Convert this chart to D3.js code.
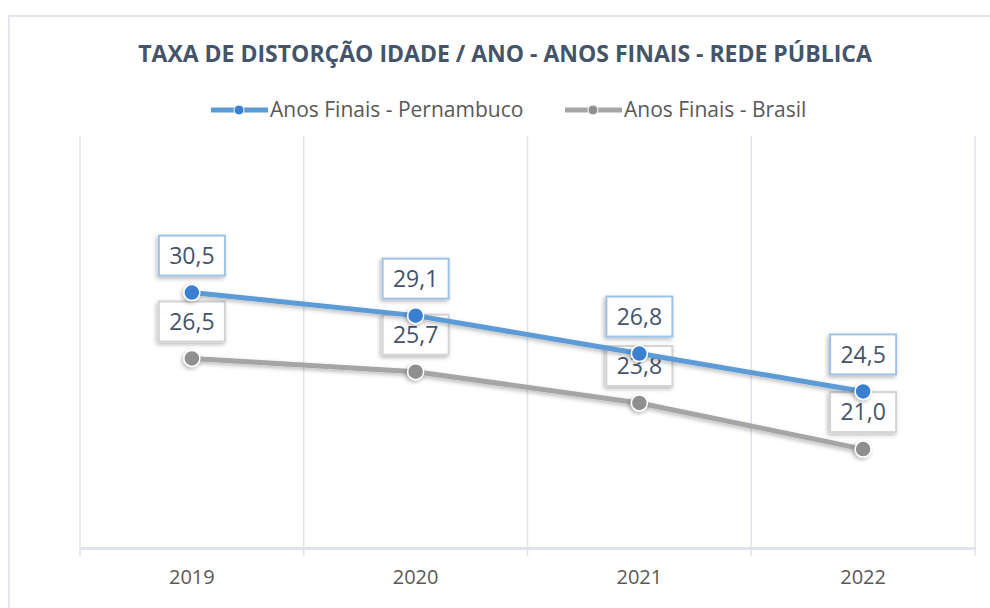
<!DOCTYPE html>
<html lang="pt">
<head>
<meta charset="utf-8">
<title>Taxa de distorção idade / ano</title>
<script src="https://d3js.org/d3.v7.min.js"></script>
<style>
  body { margin: 0; background: #fff; }
  text { font-family: "Open Sans", sans-serif; }
</style>
</head>
<body>
<script>
// dados do gráfico
const years = ["2019", "2020", "2021", "2022"];
const pernambuco = [30.5, 29.1, 26.8, 24.5];
const brasil = [26.5, 25.7, 23.8, 21.0];
const seriesNames = ["Anos Finais - Pernambuco", "Anos Finais - Brasil"];

const width = 990, height = 608;
const svg = d3.select("body").append("svg")
  .attr("width", width).attr("height", height);

// sombras estilo excel
const defs = svg.append("defs");
const sh = defs.append("filter").attr("id", "shadow")
  .attr("x", "-30%").attr("y", "-30%").attr("width", "160%").attr("height", "160%");
sh.append("feDropShadow").attr("dx", -1.5).attr("dy", 2).attr("stdDeviation", 2)
  .attr("flood-color", "#000").attr("flood-opacity", 0.28);

// moldura
svg.append("path")
  .attr("d", "M9,608 V16 H990")
  .attr("fill", "none").attr("stroke", "#e2e6eb").attr("stroke-width", 2);

svg.append("text")
  .attr("x", 505).attr("y", 62)
  .attr("text-anchor", "middle")
  .attr("font-size", 23).attr("font-weight", "bold")
  .attr("fill", "#44546a")
  .text("TAXA DE DISTORÇÃO IDADE / ANO - ANOS FINAIS - REDE PÚBLICA");

const x = d3.scaleBand().domain(years).range([80, 975]);
const y = d3.scaleLinear().domain([15, 40]).range([548, 136]);

// grades verticais
const bounds = years.map(d => x(d)).concat([x.range()[1]]);
svg.append("g").selectAll("line").data(bounds).join("line")
  .attr("x1", d => d).attr("x2", d => d)
  .attr("y1", y(40)).attr("y2", 556)
  .attr("stroke", "#dfe4eb").attr("stroke-width", 1.5);

// eixo x
const xAxis = svg.append("g").attr("transform", "translate(0,548)")
  .call(d3.axisBottom(x).tickSize(0).tickPadding(22));
xAxis.select(".domain").attr("stroke", "#dfe4eb").attr("stroke-width", 3);
xAxis.selectAll("text").attr("font-size", 20).attr("fill", "#595959")
  .attr("font-family", "'Open Sans', sans-serif");

const series = [
  { name: seriesNames[1], values: brasil, line: "#a5a5a5", dot: "#8f8f8f", box: "#d4d4d4" },
  { name: seriesNames[0], values: pernambuco, line: "#5b9bd5", dot: "#3a80d0", box: "#9dc3e6" }
];

const cx = d => x(d) + x.bandwidth() / 2;
const line = d3.line().x((d, i) => cx(years[i])).y(d => y(d));
const fmt = v => d3.format(".1f")(v).replace(".", ",");

// cada série: linha, marcadores, rótulos
series.forEach(s => {
  svg.append("path").datum(s.values)
    .attr("d", line)
    .attr("fill", "none").attr("stroke", s.line).attr("stroke-width", 5)
    .attr("stroke-linejoin", "round")
    .attr("filter", "url(#shadow)");

  svg.append("g").selectAll("circle").data(s.values).join("circle")
    .attr("cx", (d, i) => cx(years[i])).attr("cy", d => y(d))
    .attr("r", 8)
    .attr("fill", s.dot).attr("stroke", "#fff").attr("stroke-width", 1.5)
    .attr("filter", "url(#shadow)");

  const lab = svg.append("g").selectAll("g").data(s.values).join("g")
    .attr("transform", (d, i) => `translate(${cx(years[i])},${y(d) - 37})`);
  lab.append("rect")
    .attr("x", -33).attr("y", -20).attr("width", 66).attr("height", 40)
    .attr("fill", "#fff").attr("stroke", s.box).attr("stroke-width", 2)
    .attr("filter", "url(#shadow)");
  lab.append("text")
    .attr("text-anchor", "middle").attr("dy", "0.36em")
    .attr("font-size", 23).attr("fill", "#44546a")
    .text(d => fmt(d));
});

// legenda
const legend = [
  { s: series[1], x: 211 },
  { s: series[0], x: 565 }
];
legend.forEach(l => {
  const g = svg.append("g").attr("transform", `translate(${l.x},110)`);
  g.append("line").attr("x1", 0).attr("x2", 57)
    .attr("stroke", l.s.line).attr("stroke-width", 5);
  g.append("circle").attr("cx", 28).attr("r", 5)
    .attr("fill", l.s.dot).attr("stroke", "#fff").attr("stroke-width", 1);
  g.append("text").attr("x", 59).attr("dy", "0.35em")
    .attr("font-size", 21).attr("fill", "#595959")
    .text(l.s.name);
});
</script>
</body>
</html>
